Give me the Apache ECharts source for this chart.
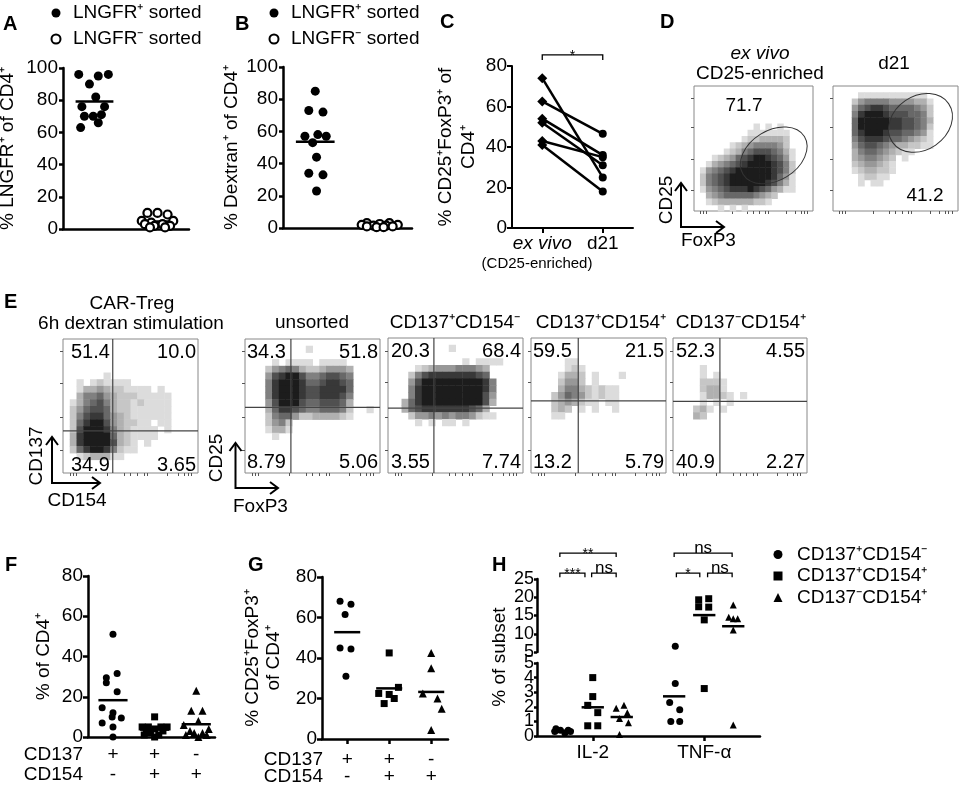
<!DOCTYPE html>
<html>
<head>
<meta charset="utf-8">
<title>CAR-Treg sorting and activation</title>
<script src="https://cdn.jsdelivr.net/npm/echarts@6.0.0/dist/echarts.min.js"></script>
<style>
  html, body { margin: 0; padding: 0; background: #fff; }
  #chart { width: 966px; height: 787px; }
</style>
</head>
<body>
<div id="chart"></div>
<script>
var FONT = "'Liberation Sans', Arial, Helvetica, sans-serif";

// ---------- A / B : LNGFR sorting ----------
var sortNames = ['LNGFR⁺ sorted', 'LNGFR⁻ sorted'];
var aPosVals = [96, 95, 96, 90, 82, 76, 76, 70, 70, 71, 66, 63];
var aPosJit  = [-0.25, 0.06, 0.22, -0.08, 0.02, -0.2, 0.16, -0.16, -0.02, 0.11, 0.06, -0.22];
var aNegVals = [10, 10, 9, 5, 5, 4, 3, 3, 2, 2, 1, 1];
var aNegJit  = [-0.16, 0, 0.16, -0.25, 0.25, -0.1, 0.08, -0.2, 0.2, -0.05, 0.12, -0.12];
var bPosVals = [85, 73, 72, 58, 57, 57, 53, 44, 34, 33, 23];
var bPosJit  = [0, -0.1, 0.12, 0.04, -0.16, 0.17, -0.04, 0.02, -0.1, 0.12, 0.02];
var bNegVals = [3, 3, 2.5, 2, 2, 1.5, 1.5, 1, 1, 0.5, 0.5];
var bNegJit  = [-0.2, 0.15, 0, -0.28, 0.28, -0.1, 0.1, -0.2, 0.2, -0.05, 0.06];

// ---------- C : paired ex vivo vs d21 ----------
var cCats = ['ex vivo', 'd21'];
var cSub = '(CD25-enriched)';
var cExVivo = [74, 62.5, 54, 52, 43, 41];
var cDay21  = [25, 46.5, 36, 31, 35, 18];

// ---------- D / E : flow plots, density per cell (row 0 = top, '.' = empty, 1..9) ----------
var dExVivo = [
  '....................', '....................', '....................', '....................',
  '....................', '....................', '..........1.1.1.....', '.........1111111....',
  '........12233332....', '......1234555542....', '.....123567776531...', '...12346789987641...',
  '..134567899998752...', '.1456789999998752...', '.2567899999998641...', '.2567899999987531...',
  '.1456788898764311...', '..345666665432......', '..12333333221.......', '....1.1.1...........'
];
var dDay21 = [
  '....................', '....11111111111.....', '...2455554444331....', '...4678876666542....',
  '...5899987776652....', '...6999998877653....', '...6999998877652....', '...6899987766541....',
  '...5788876654321....', '...4677654332211....', '...3566543211.......', '...3455432.1........',
  '...2344321..........', '...1233221..........', '....12211...........', '....1.11............',
  '....................', '....................', '....................', '....................'
];
var eCarTreg = [
  '....................', '....................', '....................', '....................',
  '....................', '......1.............', '..1.121111..........', '..13343221111.1.....',
  '..35564322211111....', '.135675322121111....', '.246776322111111....', '.257886432111111....',
  '.268997432211.11....', '.2799985321111.1....', '.3899996321111......', '.3899997321.1.......',
  '.2689985211.........', '..1233311...........', '....................', '....................'
];
var eUnsorted = [
  '....................', '.........1..........', '....................', '....1.1111.1111.....',
  '...2456532234443....', '...4789975567765....', '...5899986678876....', '...5899987788886....',
  '...5899987788875....', '...4799976677763....', '...3688765566652..1.', '...2566422333321....',
  '...2452.............', '...1331.............', '....1...............', '....................',
  '....................', '....................', '....................', '....................'
];
var eSingle137 = [
  '....................', '.........1..........', '....................', '...........1.1111...',
  '....12344455543.....', '...257888888876.....', '...4799999999985....', '...5899999999985....',
  '...5899999999974....', '..36899999999973....', '..3678888888763.....', '...2445454554211....',
  '....1.1.11.1........', '....................', '....................', '....................',
  '....................', '....................', '....................', '....................'
];
var eDouble = [
  '....................', '....................', '....................', '.....11.............',
  '.....121............', '....1332.1...1......', '....2442.1..........', '....355321211.......',
  '...2465421211.......', '...2343211.11.......', '...232.1.1..1.......', '...11...............',
  '....................', '....................', '....................', '....................',
  '....................', '....................', '....................', '....................'
];
var eSingle154 = [
  '....................', '....................', '....................', '....................',
  '....1...............', '....1.1.............', '....2221............', '....2331............',
  '....13321.1.........', '....1.1.1...........', '...231.1............', '...32...............',
  '....................', '....................', '....................', '....................',
  '....................', '....................', '....................', '....................'
];
var dPct = ['71.7', '41.2'];
var dGates = [[13.4, 8.9, 6.05, 4.0, 0.55], [14.0, 14.1, 5.45, 4.3, 0.6]];
var eTitles = ['unsorted', 'CD137⁺CD154⁻', 'CD137⁺CD154⁺', 'CD137⁻CD154⁺'];
var eQuadPct = [
  ['51.4', '10.0', '34.9', '3.65'], ['34.3', '51.8', '8.79', '5.06'], ['20.3', '68.4', '3.55', '7.74'],
  ['59.5', '21.5', '13.2', '5.79'], ['52.3', '4.55', '40.9', '2.27']
];
var eQuadCut = [[7.37, 6.3], [6.8, 9.8], [6.8, 9.6], [7.0, 10.7], [7.0, 10.6]];
var flowXTicks = [1, 1.5, 2, 6.5, 9, 10, 11, 12, 12.5, 15.5, 17, 18, 18.5, 19];
var flowYTicks = [3.4, 8.3, 13.4, 18.1];

// ---------- F / G : subsets ----------
var subsetNames = ['CD137⁺CD154⁻', 'CD137⁺CD154⁺', 'CD137⁻CD154⁺'];
var rowCD137 = ['+', '+', '-'];
var rowCD154 = ['-', '+', '+'];
var fVals = [
  [51, 31.5, 29.5, 27, 22.5, 14.5, 12, 10, 9.5, 7, 5, 0],
  [10, 5, 5, 5, 5, 4, 3, 3, 2, 1, 1, 0],
  [23, 13, 13, 8, 6, 4, 3, 2, 2, 1, 1, 0]
];
var fJit = [
  [0, 0.1, -0.16, -0.16, 0.1, -0.26, 0, -0.02, 0.2, -0.26, 0, 0],
  [0, -0.3, -0.15, 0.15, 0.3, 0, -0.2, 0.2, -0.1, 0.1, -0.25, 0],
  [0, -0.12, 0.15, 0.05, -0.3, 0.3, -0.15, 0.15, -0.05, 0.25, -0.25, 0.05]
];
var gVals = [
  [68, 66.5, 61.5, 45, 44.5, 31],
  [42.5, 25.5, 22.5, 22, 20, 17.5],
  [42.5, 35, 22.5, 20, 15, 4.5]
];
var gJit = [
  [-0.17, 0.09, -0.05, -0.17, 0.09, -0.03],
  [0, 0.22, -0.25, 0, 0.12, -0.12],
  [0, 0, -0.2, 0.15, 0.25, 0]
];

// ---------- H : cytokines ----------
var hCats = ['IL-2', 'TNF-α'];
var hOffset = [-0.27, 0, 0.26];
var hUpperTicks = [5, 10, 15, 20, 25];
var hLowerTicks = [0, 1, 2, 3, 4, 5];
var hIL2 = [
  [0.5, 0.4, 0.4, 0.3, 0.3, 0.2],
  [4.0, 2.7, 2.1, 1.6, 0.7, 0.7],
  [2.1, 1.9, 1.6, 1.2, 0.9, 0.1]
];
var hIL2Jit = [
  [-0.06, 0.05, -0.02, 0.07, -0.07, 0.02],
  [0, 0, -0.045, 0.045, -0.045, 0.045],
  [0.02, -0.05, 0.05, -0.02, 0.06, -0.02]
];
var hTNF = [
  [6.6, 3.6, 2.3, 1.8, 1.0, 1.0],
  [19.6, 19.3, 17.4, 17.3, 13.8, 3.25],
  [17.9, 14.5, 14.1, 14.1, 11, 0.75]
];
var hTNFJit = [
  [0.01, 0.01, -0.04, 0.05, -0.03, 0.05],
  [0.04, -0.05, -0.05, 0.04, 0, 0],
  [0, -0.04, 0, 0.04, 0, 0]
];
var hSig = [[0.705, 0.93, 26.6, 25.5], [0.99, 1.21, 26.6, 25.5], [0.705, 1.21, 32.1, 31],
            [1.75, 1.96, 26.6, 25.5], [2.03, 2.25, 26.6, 25.5], [1.73, 2.25, 32.1, 31]];
var hSigText = ['***', 'ns', '**', '*', 'ns', 'ns'];
var hBreak = 5;

// ---------- helpers ----------
var grid = [], xAxis = [], yAxis = [], series = [], G = [];
var FILLED = {color: '#000', opacity: 1};
var OPEN = {color: '#fff', borderColor: '#000', borderWidth: 2.2, opacity: 1};
var SYMBOLS = ['circle', 'rect', 'triangle'];
var FLOW_N = 20;
var GREY = [255, 220, 198, 176, 152, 128, 104, 80, 56, 28];

function mean(a) { return a.reduce(function (s, v) { return s + v; }, 0) / a.length; }

function addPanel(rect, xa, ya) {
  var i = grid.length;
  grid.push(Object.assign({outerBoundsMode: 'none'}, rect));
  xAxis.push(Object.assign({gridIndex: i}, xa));
  yAxis.push(Object.assign({gridIndex: i}, ya));
  return i;
}

function valueY(min, max, step, name, gap, o) {
  o = o || {};
  var lbl = {color: '#000', fontSize: o.fs || 19, fontFamily: FONT, margin: o.margin || 5,
    showMinLabel: true, showMaxLabel: true, hideOverlap: false};
  if (o.labels) lbl.customValues = o.labels;
  var tick = {show: true, length: o.tick || 5, lineStyle: {color: '#000', width: o.lw || 2.5}};
  if (o.ticks) tick.customValues = o.ticks;
  return {
    type: 'value', position: 'left', min: min, max: max, interval: step,
    axisLine: {show: true, onZero: false, lineStyle: {color: '#000', width: o.lw || 2.5}},
    axisTick: tick,
    axisLabel: lbl,
    splitLine: {show: false},
    name: name, nameLocation: 'middle', nameRotate: 90, nameGap: gap,
    nameTextStyle: {color: '#000', fontSize: 19, fontFamily: FONT, lineHeight: o.nlh || 22}
  };
}

function plainX(min, max, o) {
  return Object.assign({
    type: 'value', min: min, max: max,
    axisLine: {show: true, onZero: false, lineStyle: {color: '#000', width: 2.5}},
    axisTick: {show: false}, axisLabel: {show: false}, splitLine: {show: false}
  }, o || {});
}

function dots(gi, name, center, vals, jit, symbol, size, style) {
  return {
    type: 'scatter', name: name, xAxisIndex: gi, yAxisIndex: gi, symbol: symbol, symbolSize: size,
    clip: false, z: 4, itemStyle: style || FILLED,
    data: vals.map(function (v, k) { return [center + jit[k], v]; })
  };
}

function meanLines(gi, items, hw, lw) {
  return {
    type: 'custom', xAxisIndex: gi, yAxisIndex: gi, clip: false, silent: true, z: 3, data: items,
    renderItem: function (p, api) {
      var a = api.coord([api.value(0) - hw, api.value(1)]);
      var b = api.coord([api.value(0) + hw, api.value(1)]);
      return {type: 'line', shape: {x1: a[0], y1: a[1], x2: b[0], y2: b[1]},
        style: {stroke: '#000', lineWidth: lw}};
    }
  };
}

function brackets(gi, items, texts) {
  return {
    type: 'custom', xAxisIndex: gi, yAxisIndex: gi, clip: false, silent: true, z: 5, data: items,
    renderItem: function (p, api) {
      var a = api.coord([api.value(0), api.value(2)]);
      var b = api.coord([api.value(1), api.value(2)]);
      var drop = api.coord([api.value(0), api.value(3)])[1];
      var t = texts[p.dataIndex];
      var star = t.charAt(0) === '*';
      return {type: 'group', children: [
        {type: 'polyline', shape: {points: [[a[0], drop], [a[0], a[1]], [b[0], b[1]], [b[0], drop]]},
          style: {stroke: '#000', lineWidth: 1.3, fill: null}},
        {type: 'text', x: (a[0] + b[0]) / 2, y: a[1] + (star ? 8 : 4),
          style: {text: t, font: (star ? 14 : 17) + 'px ' + FONT, fill: '#000', align: 'center', verticalAlign: 'bottom'}}
      ]};
    }
  };
}

function flowAxis(ticks) {
  return {
    type: 'value', min: 0, max: FLOW_N,
    axisLine: {show: false, onZero: false}, axisLabel: {show: false}, splitLine: {show: false},
    axisTick: {show: true, length: 3, customValues: ticks, lineStyle: {color: '#555', width: 1}}
  };
}

function flowPanel(rect, rows) {
  var gi = addPanel(Object.assign({show: true, borderColor: '#888', borderWidth: 1, backgroundColor: '#fff'}, rect),
    flowAxis(flowXTicks), flowAxis(flowYTicks));
  var data = [];
  rows.forEach(function (row, r) {
    for (var c = 0; c < row.length; c++) {
      var ch = row.charAt(c);
      if (ch !== '.') data.push([c, rows.length - 1 - r, Number(ch)]);
    }
  });
  series.push({
    type: 'custom', xAxisIndex: gi, yAxisIndex: gi, silent: true, z: 2, data: data,
    renderItem: function (p, api) {
      var tl = api.coord([api.value(0), api.value(1) + 1]);
      var s = api.size([1, 1]);
      var g = GREY[api.value(2)];
      return {type: 'rect', shape: {x: tl[0], y: tl[1], width: s[0] + 0.5, height: s[1] + 0.5},
        style: {fill: 'rgb(' + g + ',' + g + ',' + g + ')'}};
    }
  });
  return gi;
}

function quadLines(gi, cut) {
  series.push({
    type: 'custom', xAxisIndex: gi, yAxisIndex: gi, silent: true, z: 5, data: [cut],
    renderItem: function (p, api) {
      var a = api.coord([api.value(0), 0]), b = api.coord([api.value(0), FLOW_N]);
      var c = api.coord([0, api.value(1)]), d = api.coord([FLOW_N, api.value(1)]);
      var st = {stroke: '#444', lineWidth: 1.2};
      return {type: 'group', children: [
        {type: 'line', shape: {x1: a[0], y1: a[1], x2: b[0], y2: b[1]}, style: st},
        {type: 'line', shape: {x1: c[0], y1: c[1], x2: d[0], y2: d[1]}, style: st}
      ]};
    }
  });
}

function gateEllipse(gi, gate) {
  series.push({
    type: 'custom', xAxisIndex: gi, yAxisIndex: gi, silent: true, z: 5, data: [gate],
    renderItem: function (p, api) {
      var c = api.coord([api.value(0), api.value(1)]);
      var s = api.size([api.value(2), api.value(3)]);
      return {type: 'ellipse', x: c[0], y: c[1], rotation: api.value(4),
        shape: {cx: 0, cy: 0, rx: s[0], ry: s[1]},
        style: {fill: 'none', stroke: '#333', lineWidth: 1}};
    }
  });
}

function label(x, y, s, o) {
  o = o || {};
  G.push({type: 'text', x: x, y: y, z: 100, rotation: o.rotation || 0, silent: true,
    style: {text: s, fill: '#000',
      font: (o.italic ? 'italic ' : '') + (o.bold ? 'bold ' : '') + (o.size || 19) + 'px ' + FONT,
      align: o.align || 'center', verticalAlign: o.va || 'middle'}});
}

function polyline(pts) {
  G.push({type: 'polyline', z: 100, silent: true, shape: {points: pts}, style: {stroke: '#000', lineWidth: 2, fill: null}});
}

function axisArrows(x0, y0, yTop, xRight) {
  polyline([[x0, yTop], [x0, y0], [xRight, y0]]);
  polyline([[x0 - 6, yTop + 8], [x0, yTop], [x0 + 6, yTop + 8]]);
  polyline([[xRight - 8, y0 - 6], [xRight, y0], [xRight - 8, y0 + 6]]);
}

// ---------- A ----------
var gA = addPanel({left: 63, top: 68, width: 126, height: 161}, plainX(0, 2),
  valueY(0, 100, 20, '% LNGFR⁺ of CD4⁺', 44, {tick: 4}));
series.push(dots(gA, sortNames[0], 0.5, aPosVals, aPosJit, 'circle', 9, FILLED));
series.push(dots(gA, sortNames[1], 1.5, aNegVals, aNegJit, 'circle', 8, OPEN));
series.push(meanLines(gA, [[0.5, mean(aPosVals)], [1.5, mean(aNegVals)]], 0.3, 2.5));

// ---------- B ----------
var gB = addPanel({left: 283, top: 67, width: 129, height: 161}, plainX(0, 2),
  valueY(0, 100, 20, '% Dextran⁺ of CD4⁺', 33, {tick: 4}));
series.push(dots(gB, sortNames[0], 0.5, bPosVals, bPosJit, 'circle', 9, FILLED));
series.push(dots(gB, sortNames[1], 1.5, bNegVals, bNegJit, 'circle', 8, OPEN));
series.push(meanLines(gB, [[0.5, mean(bPosVals)], [1.5, mean(bNegVals)]], 0.3, 2.5));

// ---------- C ----------
var gC = addPanel({left: 512, top: 66, width: 121, height: 162},
  plainX(0, 2, {
    axisLine: {show: true, onZero: false, lineStyle: {color: '#000', width: 2}},
    axisTick: {show: true, length: 5, customValues: [0.5, 1.5], lineStyle: {color: '#000', width: 2}},
    axisLabel: {show: true, customValues: [0.5, 1.5], margin: 6, color: '#000', fontFamily: FONT,
      fontSize: 19, hideOverlap: false,
      formatter: function (v) { return v < 1 ? '{i|' + cCats[0] + '}' : cCats[1]; },
      rich: {i: {fontStyle: 'italic', fontSize: 19, fontFamily: FONT, color: '#000'}}}
  }),
  valueY(0, 80, 20, '% CD25⁺FoxP3⁺ of\nCD4⁺', 32, {lw: 2, nlh: 23}));
cExVivo.forEach(function (v, k) {
  series.push({
    type: 'line', xAxisIndex: gC, yAxisIndex: gC, clip: false, silent: true, z: 4,
    lineStyle: {color: '#000', width: 2.5}, itemStyle: {color: '#000', opacity: 1},
    data: [{value: [0.5, v], symbol: 'diamond', symbolSize: 10},
           {value: [1.5, cDay21[k]], symbol: 'circle', symbolSize: 8}]
  });
});
series.push(brackets(gC, [[0.5, 1.5, 85.5, 83]], ['*']));
label(537, 264, cSub, {size: 15});

// ---------- D ----------
var dRects = [{left: 694, top: 86, width: 119, height: 125}, {left: 833, top: 86, width: 125, height: 125}];
var gD1 = flowPanel(dRects[0], dExVivo);
var gD2 = flowPanel(dRects[1], dDay21);
gateEllipse(gD1, dGates[0]);
gateEllipse(gD2, dGates[1]);
label(760, 54, 'ex vivo', {italic: true});
label(760, 74, 'CD25-enriched');
label(894, 64, 'd21');
label(744, 106, dPct[0]);
label(925, 196, dPct[1]);
label(667, 200, 'CD25', {rotation: Math.PI / 2});
label(681, 241, 'FoxP3', {align: 'left'});
axisArrows(681, 227, 183, 724);

// ---------- E ----------
var eRects = [
  {left: 63, top: 339, width: 135, height: 134}, {left: 245, top: 339, width: 135, height: 134},
  {left: 388, top: 338, width: 135, height: 135}, {left: 531, top: 338, width: 135, height: 135},
  {left: 673, top: 338, width: 134, height: 135}
];
var eRows = [eCarTreg, eUnsorted, eSingle137, eDouble, eSingle154];
var eLeftPad = [8, 2, 3, 2, 3];
eRects.forEach(function (r, k) {
  var gi = flowPanel(r, eRows[k]);
  quadLines(gi, eQuadCut[k]);
  var pct = eQuadPct[k];
  var bottomY = r.top + r.height - (k === 0 ? 8 : 11);
  label(r.left + eLeftPad[k], r.top + 13, pct[0], {align: 'left', size: 20});
  label(r.left + r.width - 2, r.top + 13, pct[1], {align: 'right', size: 20});
  label(r.left + eLeftPad[k], bottomY, pct[2], {align: 'left', size: 20});
  label(r.left + r.width - 2, bottomY, pct[3], {align: 'right', size: 20});
});
label(132, 304, 'CAR-Treg');
label(131, 324, '6h dextran stimulation');
label(312, 323, eTitles[0]);
label(455, 323, eTitles[1]);
label(601, 323, eTitles[2]);
label(741, 323, eTitles[3]);
label(37, 456, 'CD137', {rotation: Math.PI / 2});
label(77, 501, 'CD154');
axisArrows(52, 483, 437, 100);
label(217, 458, 'CD25', {rotation: Math.PI / 2});
label(233, 507, 'FoxP3', {align: 'left'});
axisArrows(235.5, 488, 443, 278);

// ---------- F ----------
var gF = addPanel({left: 88, top: 576, width: 127, height: 161},
  plainX(-0.6, 2.45, {
    axisLabel: {show: true, customValues: [0, 1, 2], margin: 8, color: '#000', fontSize: 19, fontFamily: FONT,
      lineHeight: 20, formatter: function (v) { var i = Math.round(v); return rowCD137[i] + '\n' + rowCD154[i]; }}
  }),
  valueY(0, 80, 20, '% of CD4⁺', 33));
fVals.forEach(function (vals, s) {
  series.push(dots(gF, subsetNames[s], s, vals, fJit[s], SYMBOLS[s], s === 2 ? 8 : 7, FILLED));
});
series.push(meanLines(gF, fVals.map(function (v, s) { return [s, mean(v)]; }), 0.35, 2.5));
label(83, 755, 'CD137', {align: 'right'});
label(83, 775, 'CD154', {align: 'right'});

// ---------- G ----------
var gG = addPanel({left: 322, top: 577, width: 126, height: 162},
  plainX(-0.6, 2.4, {
    axisTick: {show: true, length: 5, customValues: [0, 1, 2], lineStyle: {color: '#000', width: 2.5}},
    axisLabel: {show: true, customValues: [0, 1, 2], margin: 12, color: '#000', fontSize: 19, fontFamily: FONT,
      lineHeight: 17, formatter: function (v) { var i = Math.round(v); return rowCD137[i] + '\n' + rowCD154[i]; }}
  }),
  valueY(0, 80, 20, '% CD25⁺FoxP3⁺\nof CD4⁺', 38, {nlh: 21}));
gVals.forEach(function (vals, s) {
  series.push(dots(gG, subsetNames[s], s, vals, gJit[s], SYMBOLS[s], s === 2 ? 8 : 7, FILLED));
});
series.push(meanLines(gG, gVals.map(function (v, s) { return [s, mean(v)]; }), 0.31, 2.5));
label(323, 760, 'CD137', {align: 'right'});
label(323, 777, 'CD154', {align: 'right'});

// ---------- H (broken y axis: two stacked grids) ----------
var gHu = addPanel({left: 537, top: 579, width: 223, height: 73},
  {type: 'value', min: 0.5, max: 2.5, show: false},
  valueY(hBreak, 25, 5, '', 0, {tick: 3, margin: 3, fs: 18, labels: hUpperTicks, ticks: hUpperTicks}));
var gHl = addPanel({left: 537, top: 663, width: 223, height: 73},
  plainX(0.5, 2.5, {
    axisTick: {show: true, length: 5, customValues: [1, 2], lineStyle: {color: '#000', width: 2.5}},
    axisLabel: {show: true, customValues: [1, 2], margin: 7, color: '#000', fontSize: 19, fontFamily: FONT,
      formatter: function (v) { return hCats[Math.round(v) - 1]; }}
  }),
  valueY(0, hBreak, 1, '', 0, {tick: 3, margin: 3, fs: 18, ticks: hLowerTicks,
    labels: hLowerTicks.filter(function (v) { return v % 2 === 0; })}));
// second label-only axis on the lower grid so the tightly packed odd labels are not dropped
var lowerOdd = valueY(0, hBreak, 1, '', 0, {tick: 3, margin: 3, fs: 18,
  labels: hLowerTicks.filter(function (v) { return v % 2 === 1; })});
lowerOdd.gridIndex = gHl;
lowerOdd.axisLine = {show: false, onZero: false};
lowerOdd.axisTick = {show: false};
yAxis.push(lowerOdd);
var hMeansUp = [], hMeansLow = [];
[hIL2, hTNF].forEach(function (groups, c) {
  var jits = c === 0 ? hIL2Jit : hTNFJit;
  groups.forEach(function (vals, s) {
    var x0 = c + 1 + hOffset[s];
    var up = [], low = [];
    vals.forEach(function (v, k) { (v > hBreak ? up : low).push([x0 + jits[s][k], v]); });
    [[gHu, up], [gHl, low]].forEach(function (part) {
      if (!part[1].length) return;
      series.push({type: 'scatter', name: subsetNames[s], xAxisIndex: part[0], yAxisIndex: part[0],
        symbol: SYMBOLS[s], symbolSize: 7, clip: false, z: 4, itemStyle: FILLED, data: part[1]});
    });
    var m = mean(vals);
    (m > hBreak ? hMeansUp : hMeansLow).push([x0, m]);
  });
});
series.push(meanLines(gHu, hMeansUp, 0.1, 2.5));
series.push(meanLines(gHl, hMeansLow, 0.1, 2.5));
series.push(brackets(gHu, hSig, hSigText));
label(500, 657, '% of subset', {rotation: Math.PI / 2});

// ---------- panel letters ----------
[['A', 3, 24], ['B', 235, 24], ['C', 440, 22], ['D', 660, 22],
 ['E', 4, 302], ['F', 5, 565], ['G', 248, 565], ['H', 492, 565]].forEach(function (l) {
  label(l[1], l[2], l[0], {bold: true, align: 'left', size: 20});
});

// ---------- legends ----------
function legendAt(left, top, items, gap, lh, pad) {
  return {
    left: left, top: top, orient: 'vertical', padding: 0, itemGap: gap, itemWidth: 9, itemHeight: 9,
    selectedMode: false, data: items,
    textStyle: {color: '#000', fontSize: 19, fontFamily: FONT, lineHeight: lh, padding: [0, 0, 0, pad]}
  };
}
var sortLegend = [
  {name: sortNames[0], icon: 'circle', itemStyle: {color: '#000', opacity: 1}},
  {name: sortNames[1], icon: 'circle', itemStyle: {color: '#fff', borderColor: '#000', borderWidth: 2, opacity: 1}}
];
var subsetLegend = subsetNames.map(function (n, s) {
  return {name: n, icon: SYMBOLS[s], itemStyle: {color: '#000', opacity: 1}};
});

var option = {
  animation: false,
  backgroundColor: '#fff',
  textStyle: {fontFamily: FONT},
  grid: grid,
  xAxis: xAxis,
  yAxis: yAxis,
  legend: [
    legendAt(50.5, 3, sortLegend, 6, 20, 7.5),
    legendAt(268.5, 3, sortLegend, 6, 20, 7.5),
    legendAt(773.5, 545, subsetLegend, 2.5, 19, 9.5)
  ],
  graphic: {elements: G},
  series: series
};

var chart = echarts.init(document.getElementById('chart'), null, {renderer: 'canvas'});
chart.setOption(option);
</script>
</body>
</html>
